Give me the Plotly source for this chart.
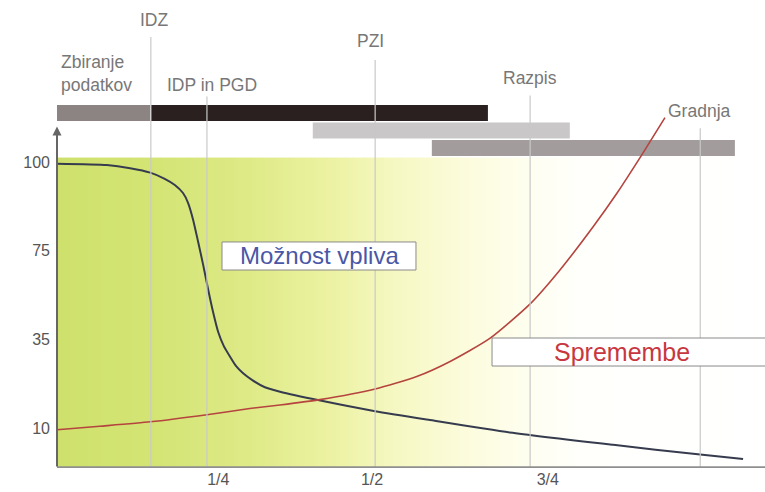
import numpy as np
import plotly.graph_objects as go

# ---------------- data ----------------
# x: share of project time (0..1), y: position on the 4-level % scale (0->10, 1->35, 2->75, 3->100)
y_tick_pos = [0, 1, 2, 3]
y_tick_text = ["10", "35", "75", "100"]
x_tick_pos = [0.256, 0.5, 0.779]
x_tick_text = ["1/4", "1/2", "3/4"]

influence_x = [0.0, 0.079, 0.116, 0.148, 0.171, 0.187, 0.200, 0.208, 0.216, 0.224, 0.232,
               0.240, 0.248, 0.256, 0.265, 0.275, 0.284, 0.295, 0.310, 0.330, 0.354, 0.418,
               0.505, 0.592, 0.719, 0.883, 1.021, 1.089]
influence_y = [2.98, 2.965, 2.93, 2.88, 2.81, 2.74, 2.65, 2.54, 2.35, 2.10, 1.84,
               1.56, 1.30, 1.08, 0.92, 0.80, 0.70, 0.62, 0.54, 0.46, 0.41, 0.31,
               0.19, 0.09, -0.05, -0.19, -0.30, -0.35]

changes_x = [0.0, 0.068, 0.148, 0.238, 0.306, 0.354, 0.417, 0.505, 0.571, 0.624, 0.687,
             0.751, 0.798, 0.851, 0.889, 0.930, 0.965]
changes_y = [-0.02, 0.02, 0.07, 0.15, 0.22, 0.26, 0.32, 0.44, 0.58, 0.75, 1.01,
             1.40, 1.78, 2.27, 2.65, 3.10, 3.50]

phase_names = ["Zbiranje podatkov", "IDZ / IDP in PGD", "PZI", "Razpis / Gradnja"]
phase_start = [0.0, 0.149, 0.406, 0.595]
phase_end = [0.1476, 0.684, 0.814, 1.076]
phase_row = [3.553, 3.553, 3.355, 3.158]
phase_color = ["#8c8383", "#2b2020", "#c9c7c7", "#a29c9c"]

milestones = ["IDZ", "IDP in PGD", "PZI", "Razpis", "Gradnja"]
milestone_x = [0.149, 0.238, 0.505, 0.751, 1.021]
milestone_top = [4.41, 3.74, 4.15, 3.75, 3.38]

# ---------------- layout geometry ----------------
X_MAX = 1.1238
Y_MIN, Y_MAX = -0.451, 4.827
GRAD_TOP = 3.05

fig = go.Figure()

# background gradient (yellow-green -> pale yellow -> white)
n = 160
edges = np.linspace(0, X_MAX, n + 1)
centers = (edges[:-1] + edges[1:]) / 2
fig.add_trace(go.Heatmap(
    x=edges, y=[Y_MIN, GRAD_TOP], z=[centers],
    zmin=0, zmax=X_MAX, showscale=False, hoverinfo="skip",
    colorscale=[
        [0.0, "rgb(207,225,108)"],
        [0.131, "rgb(211,228,116)"],
        [0.27, "rgb(222,234,134)"],
        [0.386, "rgb(236,242,162)"],
        [0.484, "rgb(246,248,196)"],
        [0.583, "rgb(252,252,222)"],
        [0.668, "rgb(254,254,240)"],
        [0.74, "rgb(255,255,252)"],
        [1.0, "rgb(255,255,255)"],
    ],
))

# phase bars
fig.add_trace(go.Bar(
    orientation="h",
    base=phase_start,
    x=[e - s for s, e in zip(phase_start, phase_end)],
    y=phase_row,
    width=0.18,
    marker=dict(color=phase_color, line=dict(width=0)),
    text=phase_names, textposition="none", hoverinfo="text",
))

# curves
fig.add_trace(go.Scatter(
    x=influence_x, y=influence_y, mode="lines",
    line=dict(color="#363c4e", width=2, shape="spline", smoothing=0.6),
    hoverinfo="skip",
))
fig.add_trace(go.Scatter(
    x=changes_x, y=changes_y, mode="lines",
    line=dict(color="#b5443f", width=1.6, shape="spline", smoothing=0.6),
    hoverinfo="skip",
))

shapes = []
for mx, top in zip(milestone_x, milestone_top):
    shapes.append(dict(type="line", xref="x", yref="y", x0=mx, x1=mx, y0=Y_MIN, y1=top,
                       line=dict(color="#c9c9c9", width=1.2), layer="above"))
# label boxes
shapes.append(dict(type="rect", xref="x", yref="y", x0=0.2619, x1=0.5698, y0=1.782, y1=2.098,
                   fillcolor="white", line=dict(color="#8a8a8a", width=1), layer="above"))
shapes.append(dict(type="rect", xref="x", yref="y", x0=0.6905, x1=X_MAX + 0.01, y0=0.699, y1=1.015,
                   fillcolor="white", line=dict(color="#8a8a8a", width=1), layer="above"))
# bottom axis line
shapes.append(dict(type="line", xref="x", yref="y", x0=0, x1=X_MAX, y0=Y_MIN + 0.005, y1=Y_MIN + 0.005,
                   line=dict(color="#8f8f8f", width=2.5), layer="above"))

gray = "#777777"
top_font = dict(family="Liberation Sans, Arial, sans-serif", size=17.5, color=gray)
annotations = [
    dict(x=0.154, y=4.601, text="IDZ", showarrow=False, font=top_font),
    dict(x=0.498, y=4.364, text="PZI", showarrow=False, font=top_font),
    dict(x=0.246, y=3.868, text="IDP in PGD", showarrow=False, font=top_font),
    dict(x=0.751, y=3.947, text="Razpis", showarrow=False, font=top_font),
    dict(x=0.966, y=3.575, text="Gradnja", showarrow=False, font=top_font, xanchor="left"),
    dict(x=0.003, y=3.998, text="Zbiranje<br>podatkov", showarrow=False, font=top_font,
         xanchor="left", align="left"),
    dict(x=-0.027, y=3.497, text="%", showarrow=False,
         font=dict(family="Liberation Sans Narrow, Liberation Sans, Arial", size=16, color="#666666")),
    dict(x=0.4159, y=1.94, text="Možnost vpliva", showarrow=False,
         font=dict(family="Liberation Sans, Arial, sans-serif", size=24, color="#4a57a6")),
    dict(x=0.8968, y=0.857, text="Spremembe", showarrow=False,
         font=dict(family="Liberation Sans, Arial, sans-serif", size=25, color="#c8373f")),
    # y-axis arrow
    dict(x=0, y=3.40, ax=0, ay=Y_MIN, xref="x", yref="y", axref="x", ayref="y", text="",
         showarrow=True, arrowhead=2, arrowsize=0.9, arrowwidth=2, arrowcolor="#666666"),
]

tick_font = dict(family="Liberation Sans Narrow, Liberation Sans, Arial", size=16, color="#555555")
fig.update_layout(
    width=765, height=492,
    margin=dict(l=57, r=0, t=0, b=24),
    paper_bgcolor="white", plot_bgcolor="white",
    showlegend=False,
    shapes=shapes, annotations=annotations,
    xaxis=dict(range=[0, X_MAX], tickvals=x_tick_pos, ticktext=x_tick_text, showgrid=False,
               zeroline=False, showline=False, tickfont=tick_font, ticks="", fixedrange=True),
    yaxis=dict(range=[Y_MIN, Y_MAX], tickvals=y_tick_pos, ticktext=y_tick_text, showgrid=False,
               zeroline=False, showline=False, tickfont=tick_font, ticks="", ticklabelstandoff=6,
               fixedrange=True),
)

fig.write_html("out.html", config={"displayModeBar": False},
               post_script="document.body.style.margin='0px';")
